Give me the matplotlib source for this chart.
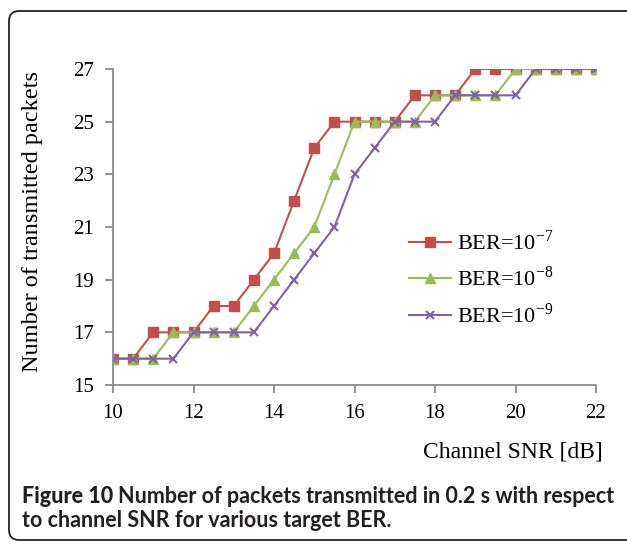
import matplotlib
matplotlib.use('Agg')
import matplotlib.pyplot as plt
from matplotlib.patches import FancyBboxPatch
from matplotlib.transforms import IdentityTransform

# data
snr = [10, 10.5, 11, 11.5, 12, 12.5, 13, 13.5, 14, 14.5, 15, 15.5, 16,
       16.5, 17, 17.5, 18, 18.5, 19, 19.5, 20, 20.5, 21, 21.5, 22]
ber7 = [16, 16, 17, 17, 17, 18, 18, 19, 20, 22, 24, 25, 25,
        25, 25, 26, 26, 26, 27, 27, 27, 27, 27, 27, 27]
ber8 = [16, 16, 16, 17, 17, 17, 17, 18, 19, 20, 21, 23, 25,
        25, 25, 25, 26, 26, 26, 26, 27, 27, 27, 27, 27]
ber9 = [16, 16, 16, 16, 17, 17, 17, 17, 18, 19, 20, 21, 23,
        24, 25, 25, 25, 26, 26, 26, 26, 27, 27, 27, 27]
labels = ['BER=10$^{\\mathregular{-7}}$', 'BER=10$^{\\mathregular{-8}}$',
          'BER=10$^{\\mathregular{-9}}$']
xticks = [10, 12, 14, 16, 18, 20, 22]
yticks = [15, 17, 19, 21, 23, 25, 27]

plt.rcParams['font.family'] = 'Liberation Serif'
plt.rcParams['mathtext.fontset'] = 'stix'

W, H = 627, 544
fig = plt.figure(figsize=(W / 100, H / 100), dpi=100)

# rounded frame around the figure
frame = FancyBboxPatch((9, 4), 660, 529, boxstyle='round,pad=0,rounding_size=10',
                       transform=IdentityTransform(), fill=False,
                       edgecolor='#222222', linewidth=1.3)
fig.patches.append(frame)

l, r, t, b = 113, 596, 69, 385
ax = fig.add_axes([l / W, (H - b) / H, (r - l) / W, (b - t) / H])

ax.plot(snr, ber7, color='#C0504D', marker='s', markersize=7, lw=1.5, label=labels[0])
ax.plot(snr, ber8, color='#9BBB59', marker='^', markersize=7, lw=1.5, label=labels[1])
ax.plot(snr, ber9, color='#8064A2', marker='x', markersize=6, mew=1.5, lw=1.5, label=labels[2])

ax.set_xlim(10, 22)
ax.set_ylim(15, 27)
ax.set_xticks(xticks)
ax.set_yticks(yticks)
for s in ['top', 'right']:
    ax.spines[s].set_visible(False)
for s in ['left', 'bottom']:
    ax.spines[s].set_color('#8c8c8c')
    ax.spines[s].set_linewidth(1.3)
ax.tick_params(colors='#8c8c8c', labelcolor='black', labelsize=15,
               length=6, width=1.3)
ax.tick_params(axis='x', pad=8)
ax.tick_params(axis='y', pad=8)
for sp in ax.spines.values():
    sp.set_clip_on(False)

fig.text(33 / W, 1 - 222 / H, 'Number of transmitted packets', rotation=90,
         ha='center', va='center', fontsize=17.5)
fig.text(603 / W, 1 - 452 / H, 'Channel SNR [dB]', ha='right', va='center',
         fontsize=17)

ax.legend(loc='center left', bbox_to_anchor=(0.612, 0.335), frameon=False,
          fontsize=16, borderpad=0, borderaxespad=0, handlelength=1.9,
          handletextpad=0.3, labelspacing=0.55)

# caption: bold lead-in, then the rest right after it
cap = dict(family='Lato', fontsize=15.5, color='#231f20', va='baseline')
lead = fig.text(22 / W, 1 - 503 / H, 'Figure 10 ', fontweight='black', **cap)
fig.canvas.draw()
ext = lead.get_window_extent()
fig.text(ext.x1 / W, 1 - 503 / H,
         'Number of packets transmitted in 0.2 s with respect',
         fontweight='bold', **cap)
fig.text(22 / W, 1 - 527 / H, 'to channel SNR for various target BER.',
         fontweight='bold', **cap)

fig.savefig('out.png', dpi=100)
